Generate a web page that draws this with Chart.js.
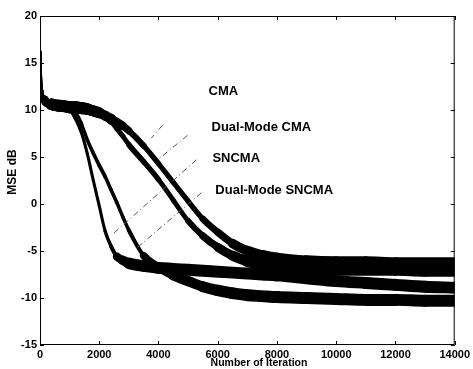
<!DOCTYPE html>
<html>
<head>
<meta charset="utf-8">
<script src="https://cdn.jsdelivr.net/npm/chart.js@4.4.1/dist/chart.umd.min.js"></script>
<style>
  html, body { margin: 0; padding: 0; background: #fff; }
  #wrap { width: 473px; height: 369px; }
</style>
</head>
<body>
<div id="wrap"><canvas id="mse-chart"></canvas></div>
<script>
const iterations = [0, 20, 60, 150, 400, 800, 1000, 1200, 1400, 1600, 1800, 2000, 2200, 2400, 2600, 2800, 3000,
  3500, 4000, 4500, 5000, 5500, 6000, 6500, 7000, 7500, 8000, 9000, 10000, 11000, 12000, 13000, 14000];

// MSE in dB
const cma = [16.2, 13.5, 12.0, 11.1, 10.6, 10.4, 10.3, 10.3, 10.2, 10.1, 9.9, 9.7, 9.4, 9.1, 8.7, 8.3, 7.8,
  6.2, 4.3, 2.3, 0.3, -1.6, -3.0, -4.2, -5.0, -5.5, -5.8, -6.1, -6.2, -6.2, -6.3, -6.3, -6.3];
const dualModeCma = [16.2, 13.5, 12.0, 11.1, 10.6, 10.4, 10.3, 10.3, 10.2, 10.1, 9.9, 9.7, 9.3, 8.8, 8.0, 7.2, 6.3,
  4.5, 2.6, 0.4, -1.8, -3.4, -4.6, -5.5, -6.1, -6.5, -6.7, -6.9, -7.0, -7.0, -7.0, -7.1, -7.1];
const sncma = [16.2, 13.5, 12.0, 11.1, 10.6, 10.4, 10.2, 9.1, 7.6, 5.3, 2.5, -0.2, -2.9, -4.5, -5.6, -6.0, -6.3,
  -6.6, -6.8, -6.9, -7.0, -7.1, -7.2, -7.3, -7.4, -7.5, -7.6, -7.9, -8.2, -8.4, -8.6, -8.8, -8.9];
const dualModeSncma = [16.2, 13.5, 12.0, 11.1, 10.6, 10.4, 10.3, 9.7, 8.5, 6.8, 5.4, 4.1, 2.9, 1.5, 0.1, -1.4, -2.8,
  -5.5, -6.7, -7.6, -8.2, -8.8, -9.2, -9.5, -9.7, -9.8, -9.9, -10.0, -10.1, -10.2, -10.2, -10.3, -10.3];

const seriesNames = ["CMA", "Dual-Mode CMA", "SNCMA", "Dual-Mode SNCMA"];
const seriesValues = [cma, dualModeCma, sncma, dualModeSncma];

// where each name sits and where its pointer line runs (data units)
const labelSpots = [[5690, 12.0], [5790, 8.1], [5820, 4.9], [5920, 1.4]];
const pointerStart = [[4140, 8.4], [4980, 7.3], [5280, 4.7], [5450, 1.2]];
const pointerEnd = [[3760, 7.0], [3970, 4.7], [2420, -3.3], [3300, -4.6]];

const FONT = "'Liberation Sans', Arial, Helvetica, sans-serif";

// noisy curves look thick where flat and thin where steep
function bandWidth(ctx) {
  const dx = ctx.p1.x - ctx.p0.x;
  const dy = ctx.p1.y - ctx.p0.y;
  const c = Math.abs(dx) / (Math.hypot(dx, dy) || 1);
  return 3 + 9 * c * c * c;
}

const matlabFrame = {
  id: "matlabFrame",
  afterDraw(chart) {
    const { ctx, chartArea: a, scales: { x, y } } = chart;
    ctx.save();
    ctx.strokeStyle = "#000";
    ctx.lineWidth = 1;
    ctx.strokeRect(a.left + 0.5, a.top + 0.5, a.right - a.left - 1, a.bottom - a.top - 1);

    ctx.beginPath();
    x.ticks.forEach(t => {
      const px = Math.round(x.getPixelForValue(t.value)) + 0.5;
      ctx.moveTo(px, a.bottom); ctx.lineTo(px, a.bottom - 4);
      ctx.moveTo(px, a.top); ctx.lineTo(px, a.top + 4);
    });
    y.ticks.forEach(t => {
      const py = Math.round(y.getPixelForValue(t.value)) + 0.5;
      ctx.moveTo(a.left, py); ctx.lineTo(a.left + 4, py);
      ctx.moveTo(a.right, py); ctx.lineTo(a.right - 4, py);
    });
    ctx.stroke();

    // pointer lines
    ctx.strokeStyle = "#555";
    ctx.setLineDash([6, 3, 1, 3]);
    pointerStart.forEach((p, i) => {
      ctx.beginPath();
      ctx.moveTo(x.getPixelForValue(p[0]), y.getPixelForValue(p[1]));
      ctx.lineTo(x.getPixelForValue(pointerEnd[i][0]), y.getPixelForValue(pointerEnd[i][1]));
      ctx.stroke();
    });
    ctx.setLineDash([]);

    // curve names
    ctx.fillStyle = "#000";
    ctx.font = "bold 13px " + FONT;
    ctx.textAlign = "left";
    ctx.textBaseline = "middle";
    seriesNames.forEach((name, i) => {
      ctx.fillText(name, x.getPixelForValue(labelSpots[i][0]), y.getPixelForValue(labelSpots[i][1]));
    });

    // axis titles
    ctx.textAlign = "center";
    ctx.font = "bold 10.5px " + FONT;
    ctx.fillText("Number of Iteration", 259, 363);
    ctx.save();
    ctx.translate(12.5, 172);
    ctx.rotate(-Math.PI / 2);
    ctx.font = "bold 12px " + FONT;
    ctx.fillText("MSE dB", 0, 0);
    ctx.restore();
    ctx.restore();
  }
};

new Chart(document.getElementById("mse-chart"), {
  type: "line",
  data: {
    datasets: seriesValues.map((vals, i) => ({
      label: seriesNames[i],
      data: iterations.map((it, k) => ({ x: it, y: vals[k] })),
      borderColor: "#000",
      backgroundColor: "#000",
      borderWidth: 3,
      borderCapStyle: "round",
      borderJoinStyle: "round",
      pointRadius: 0,
      cubicInterpolationMode: "monotone",
      clip: 0,
      segment: { borderWidth: bandWidth }
    }))
  },
  options: {
    responsive: true,
    maintainAspectRatio: false,
    animation: false,
    layout: { padding: { top: 16, right: 17, left: 0, bottom: 0 } },
    plugins: { legend: { display: false }, tooltip: { enabled: false } },
    scales: {
      x: {
        type: "linear",
        min: 0,
        max: 14000,
        ticks: { stepSize: 2000, color: "#000", padding: 3, maxRotation: 0,
          callback: v => String(v),
          font: { family: FONT, size: 11, weight: "bold" } },
        grid: { display: false, drawTicks: false },
        border: { display: false },
        afterFit: s => { s.height = 24; }
      },
      y: {
        min: -15,
        max: 20,
        ticks: { stepSize: 5, color: "#000", padding: 3,
          font: { family: FONT, size: 11, weight: "bold" } },
        grid: { display: false, drawTicks: false },
        border: { display: false },
        afterFit: s => { s.width = 40; }
      }
    }
  },
  plugins: [matlabFrame]
});
</script>
</body>
</html>
